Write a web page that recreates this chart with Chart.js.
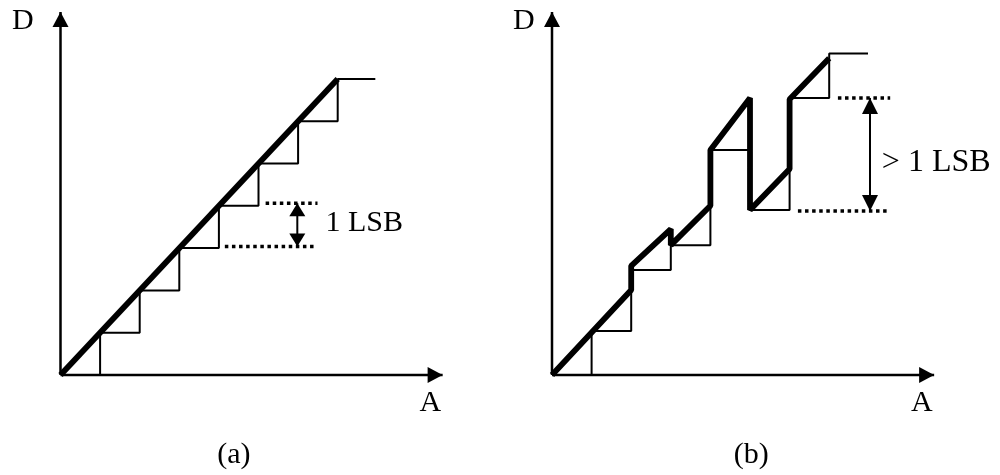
<!DOCTYPE html>
<html>
<head>
<meta charset="utf-8">
<title>ADC transfer characteristic</title>
<script src="https://cdn.jsdelivr.net/npm/chart.js@4.4.1/dist/chart.umd.min.js"></script>
<style>
  html, body { margin: 0; padding: 0; background: #fff; }
  .wrap { display: flex; width: 1000px; height: 475px; }
  .panel { width: 500px; height: 475px; }
</style>
</head>
<body>
<div class="wrap">
  <div class="panel"><canvas id="chartA" width="500" height="475"></canvas></div>
  <div class="panel"><canvas id="chartB" width="500" height="475"></canvas></div>
</div>
<script>
'use strict';

// x = analog input in code widths, y = digital output in LSB
const axisEndX = 9.65;
const axisEndY = 8.58;

// (a) ideal converter
const idealStairX = [1, 1, 2, 2, 3, 3, 4, 4, 5, 5, 6, 6, 7, 7, 7.95];
const idealStairY = [0, 1, 1, 2, 2, 3, 3, 4, 4, 5, 5, 6, 6, 7, 7];
const idealLineX = [0, 7];
const idealLineY = [0, 7];
const idealLsbLevels = [3.04, 4.06];

// (b) converter with differential non-linearity
const dnlStairX = [1, 1, 2, 2, 3, 3, 4, 4, 5, 5, 6, 6, 7, 7, 7.98];
const dnlStairY = [0, 1.04, 1.04, 2.48, 2.48, 3.07, 3.07, 5.32, 5.32, 3.9, 3.9, 6.55, 6.55, 7.6, 7.6];
const dnlLineX = [0, 2, 2, 3, 3, 4, 4, 5, 5, 6, 6, 7];
const dnlLineY = [0, 2.01, 2.58, 3.45, 3.07, 4.0, 5.32, 6.55, 3.9, 4.87, 6.52, 7.49];
const dnlLsbLevels = [3.88, 6.55];

// pixels per unit on both panels
const UNIT_X = 39.6;
const UNIT_Y = 42.3;
const FONT_FAMILY = '"Liberation Serif", "Times New Roman", serif';

const pts = (xs, ys) => xs.map((x, i) => ({ x: x, y: ys[i] }));

function line(data, width, extra) {
    return Object.assign({
        data: data,
        borderColor: '#000',
        borderWidth: width,
        pointRadius: 0,
        fill: false,
        tension: 0,
        showLine: true,
        borderJoinStyle: 'bevel'
    }, extra || {});
}

// arrow heads at the ends of flagged datasets + free text labels
const decorPlugin = {
    id: 'decor',
    afterDatasetsDraw(chart) {
        const ctx = chart.ctx;
        ctx.save();
        ctx.fillStyle = '#000';
        chart.data.datasets.forEach((ds, i) => {
            if (!ds.arrow) return;
            const p = chart.getDatasetMeta(i).data;
            const head = (tip, from) => {
                const a = Math.atan2(tip.y - from.y, tip.x - from.x);
                const len = ds.arrowLen, w = ds.arrowWidth / 2;
                const bx = tip.x - len * Math.cos(a), by = tip.y - len * Math.sin(a);
                ctx.beginPath();
                ctx.moveTo(tip.x, tip.y);
                ctx.lineTo(bx - w * Math.sin(a), by + w * Math.cos(a));
                ctx.lineTo(bx + w * Math.sin(a), by - w * Math.cos(a));
                ctx.closePath();
                ctx.fill();
            };
            head(p[p.length - 1], p[p.length - 2]);
            if (ds.arrow === 'both') head(p[0], p[1]);
        });
        const xs = chart.scales.x, ys = chart.scales.y;
        ctx.textBaseline = 'middle';
        (chart.options.plugins.decor.labels || []).forEach(l => {
            ctx.font = (l.size || 30) + 'px ' + FONT_FAMILY;
            ctx.textAlign = l.align || 'center';
            ctx.fillText(l.text, xs.getPixelForValue(l.x), ys.getPixelForValue(l.y));
        });
        ctx.restore();
    }
};

function makePanel(id, cfg) {
    const ox = cfg.originPx[0], oy = cfg.originPx[1];
    const lvl = cfg.lsbLevels;
    const datasets = [
        line(pts([0, 0], [0, axisEndY]), 2.5, { arrow: 'end', arrowLen: 15, arrowWidth: 16 }),
        line(pts([0, axisEndX], [0, 0]), 2.5, { arrow: 'end', arrowLen: 15, arrowWidth: 16 }),
        line(pts(cfg.stairX, cfg.stairY), 2),
        line(pts(cfg.lineX, cfg.lineY), 5.8),
        line(pts(cfg.lowerDot, [lvl[0], lvl[0]]), 3.5, { borderDash: [3.5, 3.6] }),
        line(pts(cfg.upperDot, [lvl[1], lvl[1]]), 3.5, { borderDash: [3.5, 3.6] }),
        line(pts([cfg.arrowX, cfg.arrowX], [lvl[0], lvl[1]]), 2,
            { arrow: 'both', arrowLen: cfg.headLen, arrowWidth: 16 })
    ];
    return new Chart(document.getElementById(id), {
        type: 'scatter',
        data: { datasets: datasets },
        options: {
            responsive: false,
            animation: false,
            events: [],
            devicePixelRatio: 1,
            layout: { padding: 0 },
            scales: {
                x: { type: 'linear', display: false, min: -ox / UNIT_X, max: (500 - ox) / UNIT_X },
                y: { type: 'linear', display: false, min: -(475 - oy) / UNIT_Y, max: oy / UNIT_Y }
            },
            plugins: {
                legend: { display: false },
                tooltip: { enabled: false },
                decor: { labels: cfg.labels }
            }
        },
        plugins: [decorPlugin]
    });
}

makePanel('chartA', {
    originPx: [60.5, 375],
    stairX: idealStairX, stairY: idealStairY,
    lineX: idealLineX, lineY: idealLineY,
    lsbLevels: idealLsbLevels,
    lowerDot: [4.15, 6.44], upperDot: [5.18, 6.49],
    arrowX: 5.98, headLen: 13,
    labels: [
        { text: 'D', x: -0.95, y: 8.36 },
        { text: 'A', x: 9.34, y: -0.67 },
        { text: '1 LSB', x: 6.69, y: 3.59, align: 'left' },
        { text: '(a)', x: 4.38, y: -1.89 }
    ]
});

makePanel('chartB', {
    originPx: [52, 375],
    stairX: dnlStairX, stairY: dnlStairY,
    lineX: dnlLineX, lineY: dnlLineY,
    lsbLevels: dnlLsbLevels,
    lowerDot: [6.21, 8.54], upperDot: [7.22, 8.54],
    arrowX: 8.03, headLen: 16,
    labels: [
        { text: 'D', x: -0.71, y: 8.36 },
        { text: 'A', x: 9.34, y: -0.67 },
        { text: '> 1 LSB', x: 8.33, y: 5.01, align: 'left', size: 32 },
        { text: '(b)', x: 5.03, y: -1.89 }
    ]
});
</script>
</body>
</html>
